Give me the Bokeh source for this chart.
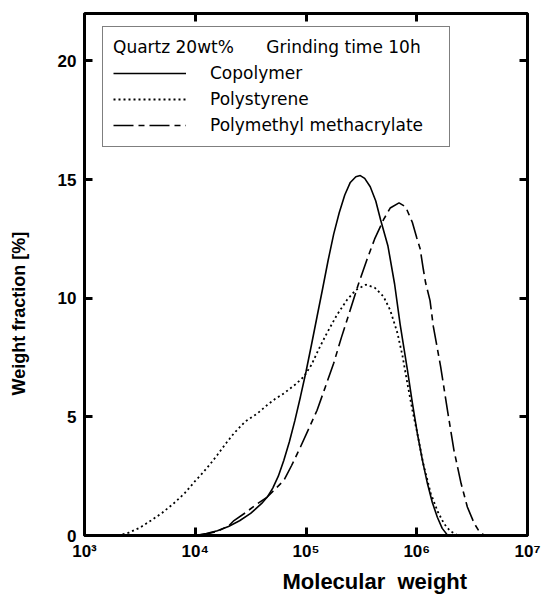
import numpy as np
from bokeh.plotting import figure
from bokeh.models import FixedTicker, LogAxis, LinearAxis, Legend, LegendItem, Title
from bokeh.embed import file_html
from bokeh.resources import INLINE

# ---- data (log10 of molecular weight, weight fraction %) ----
x_ticks = [1e3, 1e4, 1e5, 1e6, 1e7]
x_tick_labels = ["10³", "10⁴", "10⁵", "10⁶", "10⁷"]
y_ticks = [0, 5, 10, 15, 20]

copolymer_logmw = [4.00, 4.10, 4.20, 4.30, 4.40, 4.50, 4.60, 4.65, 4.70, 4.75, 4.80, 4.85,
                   4.90, 4.95, 5.00, 5.05, 5.10, 5.15, 5.20, 5.25, 5.30, 5.35, 5.40, 5.45,
                   5.49, 5.53, 5.58, 5.63, 5.674, 5.74, 5.80, 5.85, 5.915, 5.96, 6.005,
                   6.05, 6.096, 6.14, 6.186, 6.23, 6.28]
copolymer_wf = [0.0, 0.08, 0.2, 0.38, 0.62, 0.93, 1.35, 1.62, 2.0, 2.5, 3.17, 3.95,
                4.85, 5.85, 6.9, 8.05, 9.23, 10.4, 11.6, 12.7, 13.6, 14.35, 14.88, 15.12,
                15.17, 15.05, 14.7, 14.1, 13.3, 12.2, 10.6, 8.9, 7.0, 5.6, 4.31,
                3.2, 2.2, 1.4, 0.77, 0.3, 0.0]

polystyrene_logmw = [3.30, 3.40, 3.50, 3.60, 3.70, 3.80, 3.90, 4.00, 4.07, 4.14, 4.20, 4.28,
                     4.35, 4.45, 4.56, 4.65, 4.72, 4.80, 4.90, 4.98, 5.05, 5.12, 5.19, 5.28,
                     5.37, 5.45, 5.54, 5.62, 5.70, 5.76, 5.825, 5.87, 5.915, 5.96, 6.005,
                     6.06, 6.126, 6.19, 6.246, 6.30, 6.37]
polystyrene_wf = [0.0, 0.12, 0.33, 0.63, 0.95, 1.33, 1.76, 2.3, 2.65, 3.04, 3.4, 3.9,
                  4.31, 4.8, 5.14, 5.5, 5.75, 5.99, 6.35, 6.69, 7.2, 7.9, 8.54, 9.3,
                  9.93, 10.35, 10.57, 10.45, 10.07, 9.5, 8.54, 7.6, 6.42, 5.3, 4.31,
                  3.0, 1.78, 1.0, 0.5, 0.2, 0.0]

pmma_logmw = [4.00, 4.10, 4.20, 4.30, 4.35, 4.45, 4.55, 4.65, 4.72, 4.80, 4.87, 4.95,
              5.02, 5.10, 5.17, 5.25, 5.32, 5.40, 5.47, 5.55, 5.62, 5.70, 5.76, 5.84,
              5.90, 5.96, 6.00, 6.03, 6.06, 6.08, 6.12, 6.15, 6.216, 6.28, 6.336,
              6.40, 6.457, 6.52, 6.56, 6.61]
pmma_wf = [0.0, 0.06, 0.18, 0.4, 0.63, 0.95, 1.3, 1.62, 1.95, 2.32, 2.95, 3.73,
           4.45, 5.28, 6.2, 7.26, 8.35, 9.51, 10.55, 11.62, 12.5, 13.31, 13.8, 14.02,
           13.85, 13.2, 12.55, 12.1, 11.2, 10.65, 9.9, 8.8, 7.11, 5.2, 3.59,
           2.2, 1.2, 0.5, 0.2, 0.0]

series_names = ["Copolymer", "Polystyrene", "Polymethyl methacrylate"]
legend_title = "Quartz 20wt%\u00a0\u00a0\u00a0\u00a0\u00a0\u00a0Grinding time 10h"
x_title = "Molecular\u00a0 weight"
y_title = "Weight fraction [%]"

# ---- figure ----
p = figure(width=548, height=609, x_axis_type="log", x_range=(1e3, 1e7), y_range=(0, 22),
           output_backend="svg", toolbar_location=None,
           min_border_left=84, min_border_right=21, min_border_top=13, min_border_bottom=74)
p.background_fill_color = "white"
p.border_fill_color = "white"
p.grid.grid_line_color = None
p.outline_line_color = "black"
p.outline_line_width = 3

tick_font = "Liberation Sans"

def style_axis(ax, show_labels=True):
    ax.axis_line_color = None
    ax.major_tick_in = 8
    ax.major_tick_out = 0
    ax.major_tick_line_width = 3
    ax.major_tick_line_color = "black"
    ax.minor_tick_line_color = None
    if show_labels:
        ax.major_label_text_font = tick_font
        ax.major_label_text_font_style = "bold"
        ax.major_label_text_font_size = "17px"
        ax.major_label_text_color = "black"
    else:
        ax.major_label_text_font_size = "0px"
        ax.major_label_text_color = None

p.xaxis.ticker = FixedTicker(ticks=x_ticks)
p.xaxis.major_label_overrides = {t: lab for t, lab in zip(x_ticks, x_tick_labels)}
p.xaxis.major_label_standoff = 6
p.yaxis.ticker = FixedTicker(ticks=y_ticks)
p.yaxis.major_label_standoff = 8
style_axis(p.xaxis[0])
style_axis(p.yaxis[0])
# spacer between the y tick labels and the y title
p.yaxis.axis_label = "\u00a0"
p.yaxis.axis_label_text_font_size = "1px"
p.yaxis.axis_label_standoff = 19

top_axis = LogAxis(ticker=FixedTicker(ticks=x_ticks))
style_axis(top_axis, show_labels=False)
p.add_layout(top_axis, "above")
right_axis = LinearAxis(ticker=FixedTicker(ticks=y_ticks))
style_axis(right_axis, show_labels=False)
p.add_layout(right_axis, "right")

# ---- curves ----
r1 = p.line(10 ** np.array(copolymer_logmw), copolymer_wf, line_color="black", line_width=1.6)
r2 = p.line(10 ** np.array(polystyrene_logmw), polystyrene_wf, line_color="black", line_width=1.8,
            line_dash="2 3")
r3 = p.line(10 ** np.array(pmma_logmw), pmma_wf, line_color="black", line_width=1.6,
            line_dash="20 5 6 5")

legend = Legend(items=[LegendItem(label=series_names[0], renderers=[r1]),
                       LegendItem(label=series_names[1], renderers=[r2]),
                       LegendItem(label=series_names[2], renderers=[r3])],
                location=(18, 388), title=legend_title)
legend.title_text_font = "DejaVu Sans"
legend.title_text_font_style = "normal"
legend.title_text_font_size = "17px"
legend.title_text_color = "black"
legend.title_standoff = 5
legend.label_text_font = "DejaVu Sans"
legend.label_text_font_size = "17px"
legend.label_text_color = "black"
legend.border_line_color = "black"
legend.border_line_width = 1.2
legend.background_fill_color = "white"
legend.background_fill_alpha = 1
legend.glyph_width = 73
legend.glyph_height = 22
legend.label_height = 22
legend.label_width = 229
legend.label_standoff = 24
legend.spacing = 4
legend.padding = 10
legend.margin = 0
p.add_layout(legend)

# ---- axis titles ----
xt = Title(text=x_title, align="left", offset=198, vertical_align="middle",
           text_font=tick_font, text_font_style="bold", text_font_size="22px",
           text_color="black", standoff=8)
p.add_layout(xt, "below")
yt = Title(text=y_title, align="left", offset=140, vertical_align="middle",
           text_font=tick_font, text_font_style="bold", text_font_size="18px",
           text_color="black", standoff=4)
p.add_layout(yt, "left")

open("out.html", "w").write(file_html(p, INLINE))
